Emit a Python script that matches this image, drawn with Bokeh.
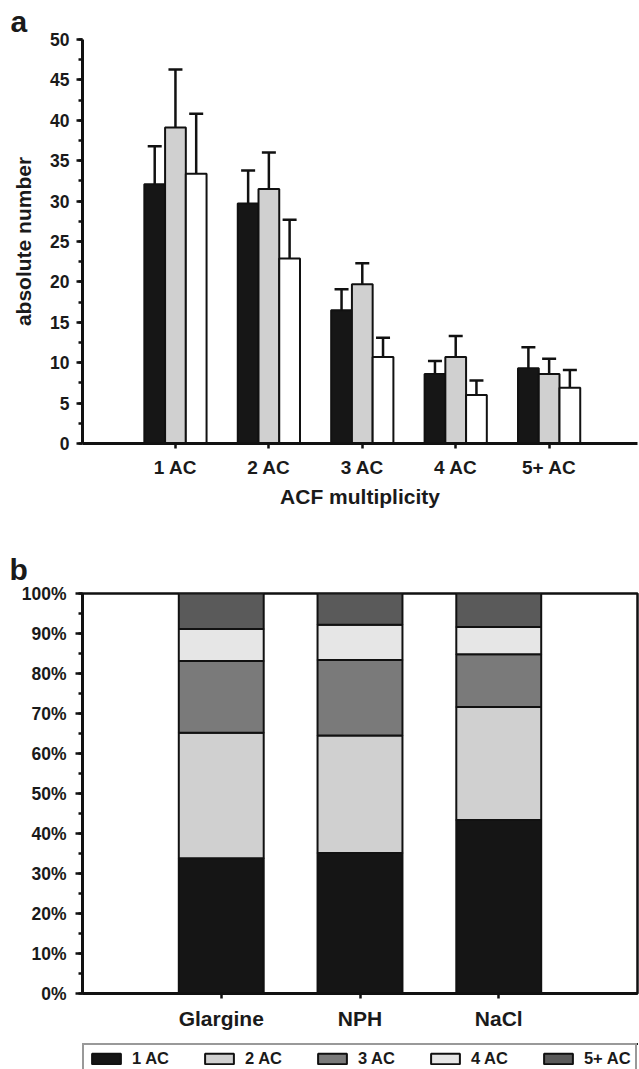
from bokeh.plotting import figure
from bokeh.models import (Range1d, FixedTicker, SingleIntervalTicker, Whisker, TeeHead,
                          ColumnDataSource, Legend, LegendItem, PrintfTickFormatter)
from bokeh.layouts import column
from bokeh.embed import file_html
from bokeh.resources import INLINE

# ---------------- data ----------------
multiplicity = ["1 AC", "2 AC", "3 AC", "4 AC", "5+ AC"]
glargine_abs = [32.1, 29.7, 16.5, 8.6, 9.3]
glargine_sd = [4.7, 4.1, 2.6, 1.6, 2.6]
nph_abs = [39.1, 31.5, 19.7, 10.7, 8.6]
nph_sd = [7.2, 4.5, 2.6, 2.6, 1.9]
nacl_abs = [33.4, 22.9, 10.7, 6.0, 6.9]
nacl_sd = [7.4, 4.8, 2.4, 1.8, 2.2]

treatments = ["Glargine", "NPH", "NaCl"]
pct_1ac = [33.8, 35.1, 43.4]
pct_2ac = [31.4, 29.4, 28.2]
pct_3ac = [17.9, 18.9, 13.2]
pct_4ac = [8.0, 8.8, 6.8]
pct_5ac = [8.9, 7.8, 8.4]
stack_names = ["1 AC", "2 AC", "3 AC", "4 AC", "5+ AC"]

FONT = "Liberation Sans"
TXT = "#1a1a1a"
INK = "#111111"


def style_axis(ax, tick_size, label_size):
    ax.axis_line_color = INK
    ax.axis_line_width = 3
    ax.major_tick_line_color = INK
    ax.major_tick_line_width = 2.5
    ax.minor_tick_line_color = INK
    ax.minor_tick_line_width = 2.5
    ax.major_tick_in = 0
    ax.minor_tick_in = 0
    ax.major_label_text_font = FONT
    ax.major_label_text_font_style = "bold"
    ax.major_label_text_font_size = tick_size
    ax.major_label_text_color = TXT
    ax.axis_label_text_font = FONT
    ax.axis_label_text_font_style = "bold"
    ax.axis_label_text_font_size = label_size
    ax.axis_label_text_color = TXT


def style_title(p, txt, offset, standoff):
    p.title.text = txt
    p.title.align = "left"
    p.title.vertical_align = "top"
    p.title.offset = offset
    p.title.standoff = standoff
    p.title.text_font = FONT
    p.title.text_font_style = "bold"
    p.title.text_font_size = "30px"
    p.title.text_color = TXT


# ---------------- panel a ----------------
idx = list(range(1, len(multiplicity) + 1))
pa = figure(width=639, height=530, x_range=Range1d(0.005, 5.946), y_range=Range1d(0, 50),
            output_backend="svg", toolbar_location=None,
            min_border_left=81, min_border_right=1, min_border_top=39, min_border_bottom=87)
pa.outline_line_color = None
pa.grid.visible = False
style_title(pa, "a", -72, 0)

bar_w = 0.222
offsets = [-bar_w, 0.0, bar_w]
series = [(glargine_abs, glargine_sd, "#161616"),
          (nph_abs, nph_sd, "#d0d0d0"),
          (nacl_abs, nacl_sd, "#ffffff")]
for (vals, sds, col), off in zip(series, offsets):
    src = ColumnDataSource(dict(x=[i + off for i in idx], top=vals,
                                upper=[v + s for v, s in zip(vals, sds)]))
    pa.add_layout(Whisker(base="x", lower="top", upper="upper", source=src, dimension="height",
                          line_color=INK, line_width=2.5, lower_head=None,
                          upper_head=TeeHead(size=14, line_color=INK, line_width=2.5),
                          level="glyph"))
    pa.vbar(x="x", top="top", width=bar_w, source=src, fill_color=col,
            line_color=INK, line_width=2)

pa.xaxis.ticker = FixedTicker(ticks=idx, minor_ticks=[])
pa.xaxis.major_label_overrides = {i: m for i, m in zip(idx, multiplicity)}
pa.xaxis.axis_label = "ACF multiplicity"
pa.yaxis.ticker = SingleIntervalTicker(interval=5, num_minor_ticks=2)
pa.yaxis.axis_label = "absolute number"
style_axis(pa.xaxis[0], "19px", "21px")
style_axis(pa.yaxis[0], "17.5px", "21px")
pa.xaxis.major_tick_out = 5
pa.xaxis.major_label_standoff = 8
pa.xaxis.axis_label_standoff = 4
pa.yaxis.major_tick_out = 6
pa.yaxis.minor_tick_out = 4
pa.yaxis.major_label_standoff = 7
pa.yaxis.axis_label_standoff = 12

# ---------------- panel b ----------------
pb = figure(width=639, height=505, x_range=Range1d(0, 4), y_range=Range1d(0, 100),
            output_backend="svg", toolbar_location=None,
            min_border_left=82, min_border_right=2, min_border_top=63, min_border_bottom=42)
pb.grid.visible = False
pb.outline_line_color = INK
pb.outline_line_width = 2.5
style_title(pb, "b", -73, 12)

stack_cols = ["#151515", "#d0d0d0", "#7a7a7a", "#e6e6e6", "#5a5a5a"]
stackers = ["ac1", "ac2", "ac3", "ac4", "ac5"]
src_b = ColumnDataSource(dict(x=list(range(1, len(treatments) + 1)),
                              ac1=pct_1ac, ac2=pct_2ac, ac3=pct_3ac, ac4=pct_4ac, ac5=pct_5ac))
pb.vbar_stack(stackers, x="x", width=0.612, source=src_b,
              fill_color=stack_cols, line_color=INK, line_width=2)

pb.xaxis.ticker = FixedTicker(ticks=list(range(1, len(treatments) + 1)), minor_ticks=[])
pb.xaxis.major_label_overrides = {i + 1: t for i, t in enumerate(treatments)}
pb.yaxis.ticker = SingleIntervalTicker(interval=10, num_minor_ticks=2)
pb.yaxis.formatter = PrintfTickFormatter(format="%d%%")
style_axis(pb.xaxis[0], "21px", "21px")
style_axis(pb.yaxis[0], "17.5px", "21px")
pb.xaxis.major_tick_out = 5
pb.xaxis.major_label_standoff = 8
pb.yaxis.major_tick_out = 7
pb.yaxis.minor_tick_out = 4
pb.yaxis.major_label_standoff = 9

# ---------------- legend strip (shares panel b's stack styling) ----------------
pl = figure(width=639, height=34, x_range=Range1d(0, 1), y_range=Range1d(-2, -1),
            output_backend="svg", toolbar_location=None,
            x_axis_location=None, y_axis_location=None,
            min_border_left=82, min_border_right=0, min_border_top=8, min_border_bottom=0)
pl.grid.visible = False
pl.outline_line_color = None
swatches = pl.vbar_stack(stackers, x="x", width=0.612, source=src_b,
                         fill_color=stack_cols, line_color=INK, line_width=2)
legend = Legend(items=[LegendItem(label=n, renderers=[r]) for n, r in zip(stack_names, swatches)],
                orientation="horizontal", location="top_left", margin=0, padding=4, spacing=32,
                glyph_width=36, glyph_height=13, label_standoff=8, label_height=16,
                label_text_font=FONT, label_text_font_style="bold", label_text_font_size="16.5px",
                label_text_color=TXT, border_line_color="#333333", border_line_width=2,
                background_fill_color="white", background_fill_alpha=1.0)
pl.add_layout(legend, "center")

layout = column(pa, pb, pl)
open("out.html", "w").write(file_html(layout, INLINE))
